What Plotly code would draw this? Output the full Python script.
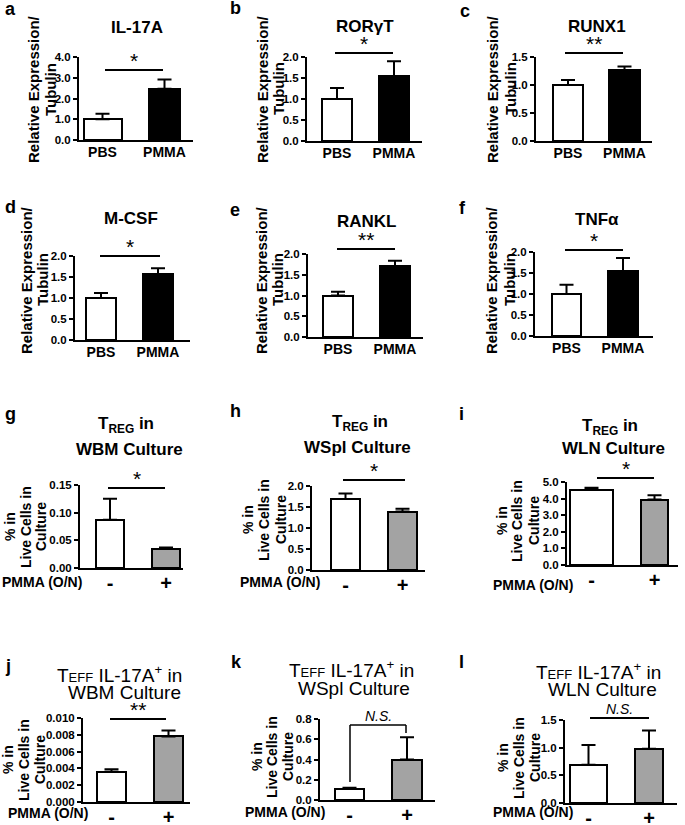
import plotly.graph_objects as go

W, H = 685, 825
FONT = "Liberation Sans, Arial, sans-serif"

# ---------------- data ----------------
expr_groups = ["PBS", "PMMA"]
culture_groups = ["-", "+"]

il17a_mean = [1.0, 2.47];   il17a_sem = [0.27, 0.45]
rorgt_mean = [1.0, 1.54];   rorgt_sem = [0.26, 0.36]
runx1_mean = [1.0, 1.27];   runx1_sem = [0.09, 0.06]
mcsf_mean = [1.0, 1.56];    mcsf_sem = [0.12, 0.15]
rankl_mean = [1.0, 1.71];   rankl_sem = [0.09, 0.13]
tnfa_mean = [1.0, 1.55];    tnfa_sem = [0.22, 0.31]
treg_wbm_mean = [0.087, 0.035];  treg_wbm_sem = [0.038, 0.002]
treg_wspl_mean = [1.69, 1.39];   treg_wspl_sem = [0.13, 0.07]
treg_wln_mean = [4.54, 3.94];    treg_wln_sem = [0.12, 0.26]
teff_wbm_mean = [0.0036, 0.0078]; teff_wbm_sem = [0.0003, 0.0007]
teff_wspl_mean = [0.11, 0.40];   teff_wspl_sem = [0.01, 0.22]
teff_wln_mean = [0.69, 0.98];    teff_wln_sem = [0.36, 0.33]

sig_labels = ["*", "*", "**", "*", "**", "*", "*", "*", "*", "**", "N.S.", "N.S."]

# ---------------- layout description (pixels) ----------------
GRAY = "#a3a3a3"
panels = [
    dict(L="a", cats=expr_groups, m=il17a_mean, e=il17a_sem, fill=["white", "black"], ymax=4.0, dt=1.0, fmt=".1f",
         fr=(79, 193, 57, 140), c=(102.5, 164.5), w=(38, 31)),
    dict(L="b", cats=expr_groups, m=rorgt_mean, e=rorgt_sem, fill=["white", "black"], ymax=2.0, dt=0.5, fmt=".1f",
         fr=(307, 422, 57, 141), c=(337, 394), w=(30, 30)),
    dict(L="c", cats=expr_groups, m=runx1_mean, e=runx1_sem, fill=["white", "black"], ymax=1.5, dt=0.5, fmt=".1f",
         fr=(536, 652, 57, 141), c=(568, 624.5), w=(30, 31)),
    dict(L="d", cats=expr_groups, m=mcsf_mean, e=mcsf_sem, fill=["white", "black"], ymax=2.0, dt=0.5, fmt=".1f",
         fr=(75, 190, 256, 340), c=(101, 158), w=(30, 30)),
    dict(L="e", cats=expr_groups, m=rankl_mean, e=rankl_sem, fill=["white", "black"], ymax=2.0, dt=0.5, fmt=".1f",
         fr=(308, 423, 254, 337), c=(338, 395), w=(30, 30)),
    dict(L="f", cats=expr_groups, m=tnfa_mean, e=tnfa_sem, fill=["white", "black"], ymax=2.0, dt=0.5, fmt=".1f",
         fr=(535, 653, 252, 336), c=(566.5, 623), w=(29, 30)),
    dict(L="g", cats=culture_groups, m=treg_wbm_mean, e=treg_wbm_sem, fill=["white", GRAY], ymax=0.15, dt=0.05, fmt=".2f",
         fr=(80, 183, 485, 568), c=(110, 166), w=(28, 28)),
    dict(L="h", cats=culture_groups, m=treg_wspl_mean, e=treg_wspl_sem, fill=["white", GRAY], ymax=2.0, dt=0.5, fmt=".1f",
         fr=(312, 425, 486, 570), c=(345.5, 402.5), w=(29, 29)),
    dict(L="i", cats=culture_groups, m=treg_wln_mean, e=treg_wln_sem, fill=["white", GRAY], ymax=5.0, dt=1.0, fmt=".1f",
         fr=(567, 678, 482, 565), c=(591.5, 654.5), w=(43, 27)),
    dict(L="j", cats=culture_groups, m=teff_wbm_mean, e=teff_wbm_sem, fill=["white", GRAY], ymax=0.010, dt=0.002, fmt=".3f",
         fr=(83, 190, 718, 802), c=(111.5, 168.5), w=(29, 29)),
    dict(L="k", cats=culture_groups, m=teff_wspl_mean, e=teff_wspl_sem, fill=["white", GRAY], ymax=0.8, dt=0.2, fmt=".1f",
         fr=(320, 435, 719, 800), c=(349.5, 407), w=(29, 30)),
    dict(L="l", cats=culture_groups, m=teff_wln_mean, e=teff_wln_sem, fill=["white", GRAY], ymax=1.5, dt=0.5, fmt=".1f",
         fr=(565, 677, 720, 803), c=(588.5, 649), w=(37, 28)),
]

letter_pos = [(3, 9), (228, 8), (458, 11), (3, 207), (228, 210), (457, 208),
              (3, 414), (228, 411), (457, 414), (3, 666), (229, 662), (457, 662)]

# titles: (text, x, y, size, bold)
titles = [
    ("IL-17A", 137, 28, 17, True), ("RORγT", 365, 27, 17, True), ("RUNX1", 597, 27, 17, True),
    ("M-CSF", 131, 219, 17, True), ("RANKL", 367, 222, 17, True), ("TNFα", 597, 220, 17, True),
]
treg_titles = [("WBM", 126, 129), ("WSpl", 360, 357), ("WLN", 610, 613)]
treg_y = [(425, 450), (423, 447), (427, 448)]
teff_titles = [("WBM", 119, 124), ("WSpl", 351, 354), ("WLN", 598, 602)]
teff_y = [(674, 692), (669, 688), (671, 689)]

# sig line: (x0, x1, y)
sig_lines = [(105, 163, 70), (335, 393, 53), (565, 623, 53), (100, 160, 256), (337, 395, 249), (565, 623, 250),
             (108, 165, 488), (343, 405, 480), (597, 654, 478), (110, 166, 719), (350, 406, 725), (590, 649, 718)]

ytitle2 = [((33, 50), 89), ((262, 278), 89), ((492, 510), 89), ((27, 43), 280), ((262, 278), 280), ((492, 510), 280)]
ytitle3 = [((10, 26, 41), 527), ((248, 264, 281), 520), ((502, 517, 534), 521),
           ((8, 24, 40), 760), ((257, 272, 288), 757), ((503, 519, 535), 758)]
pmma_on = [(42, 582), (280, 582), (533, 585), (48, 813), (285, 812), (533, 812)]


def px(x, y):
    return x / W, 1 - y / H


fig = go.Figure()
annotations = []
shapes = []


def ann(text, x, y, size, bold=True, angle=0, italic=False, xanchor="center", yanchor="middle"):
    t = text
    if italic:
        t = "<i>" + t + "</i>"
    if bold:
        t = "<b>" + t + "</b>"
    X, Y = px(x, y)
    annotations.append(dict(text=t, x=X, y=Y, xref="paper", yref="paper", showarrow=False,
                            xanchor=xanchor, yanchor=yanchor, textangle=angle,
                            font=dict(family=FONT, size=size, color="black")))


def line(x0, y0, x1, y1, w=2):
    X0, Y0 = px(x0, y0)
    X1, Y1 = px(x1, y1)
    shapes.append(dict(type="line", xref="paper", yref="paper", x0=X0, y0=Y0, x1=X1, y1=Y1,
                       line=dict(color="black", width=w)))


for i, p in enumerate(panels):
    n = i + 1
    x0, x1, yt, yb = p["fr"]
    c1, c2 = p["c"]
    unit = c2 - c1
    xa = "x" if n == 1 else f"x{n}"
    ya = "y" if n == 1 else f"y{n}"
    fig.add_trace(go.Bar(
        x=p["cats"], y=p["m"], xaxis=xa, yaxis=ya,
        width=[w / unit for w in p["w"]],
        marker=dict(color=p["fill"], line=dict(color="black", width=2)),
        error_y=dict(type="data", array=p["e"], arrayminus=[0, 0], symmetric=False,
                     color="black", thickness=2, width=7),
        showlegend=False, hoverinfo="skip",
    ))
    big = p["cats"] == culture_groups
    xax = dict(domain=[x0 / W, x1 / W], anchor=ya, type="category", automargin=False,
               range=[(x0 - c1) / unit, (x1 - c1) / unit],
               showline=True, linewidth=2, linecolor="black", ticks="", showgrid=False, zeroline=False,
               tickfont=dict(family=FONT, size=20 if big else 14, color="black", weight="bold"),
               ticklabelstandoff=-4 if big else -2)
    yax = dict(domain=[1 - yb / H, 1 - yt / H], anchor=xa, range=[0, p["ymax"]], automargin=False,
               tick0=0, dtick=p["dt"], tickformat=p["fmt"],
               showline=True, linewidth=2, linecolor="black", ticks="outside", ticklen=4, tickwidth=2,
               tickcolor="black", showgrid=False, zeroline=False,
               tickfont=dict(family=FONT, size=11.5, color="black", weight="bold"), ticklabelstandoff=0)
    fig.layout[f"xaxis{'' if n == 1 else n}"] = xax
    fig.layout[f"yaxis{'' if n == 1 else n}"] = yax

    # letter
    lx, ly = letter_pos[i]
    ann(p["L"], lx, ly, 18, bold=True, xanchor="left")

    # significance
    sx0, sx1, sy = sig_lines[i]
    lab = sig_labels[i]
    if p["L"] == "k":
        line(sx0, 782, sx0, sy, 1.5)
        line(sx0, sy, sx1, sy, 1.5)
        line(sx1, sy, sx1, 733, 1.5)
    else:
        line(sx0, sy, sx1, sy, 2)
    if lab == "N.S.":
        ann(lab, (sx0 + sx1) / 2, sy - 9, 14, bold=False, italic=True)
    else:
        ann(lab, (sx0 + sx1) / 2, sy + 4, 21, bold=False, yanchor="bottom")

# titles a-f
for t, x, y, s, b in titles:
    ann(t, x, y, s, bold=b)
# titles g-i
for (nm, xa1, xa2), (ya1, ya2) in zip(treg_titles, treg_y):
    ann("T<sub>REG</sub> in", xa1, ya1, 17, bold=True)
    ann(nm + " Culture", xa2, ya2, 17, bold=True)
# titles j-l
for (nm, xa1, xa2), (ya1, ya2) in zip(teff_titles, teff_y):
    ann("T<span style='font-size:13px'>EFF</span> IL-17A<sup>+</sup> in", xa1, ya1, 19, bold=False)
    ann(nm + " Culture", xa2, ya2, 19, bold=False)

# y titles
for (xs, yc) in ytitle2:
    ann("Relative Expression/", xs[0], yc, 15, angle=-90)
    ann("Tubulin", xs[1], yc, 15, angle=-90)
for (xs, yc) in ytitle3:
    ann("% in", xs[0], yc, 14, angle=-90)
    ann("Live Cells in", xs[1], yc, 14, angle=-90)
    ann("Culture", xs[2], yc, 14, angle=-90)
for (x, y) in pmma_on:
    ann("PMMA (O/N)", x, y, 14)

fig.update_layout(width=W, height=H, margin=dict(l=0, r=0, t=0, b=0, autoexpand=False),
                  paper_bgcolor="white", plot_bgcolor="white",
                  annotations=annotations, shapes=shapes, bargap=0)
fig.write_html("out.html", config={"displayModeBar": False},
               post_script="document.body.style.margin='0';document.body.style.padding='0';")
